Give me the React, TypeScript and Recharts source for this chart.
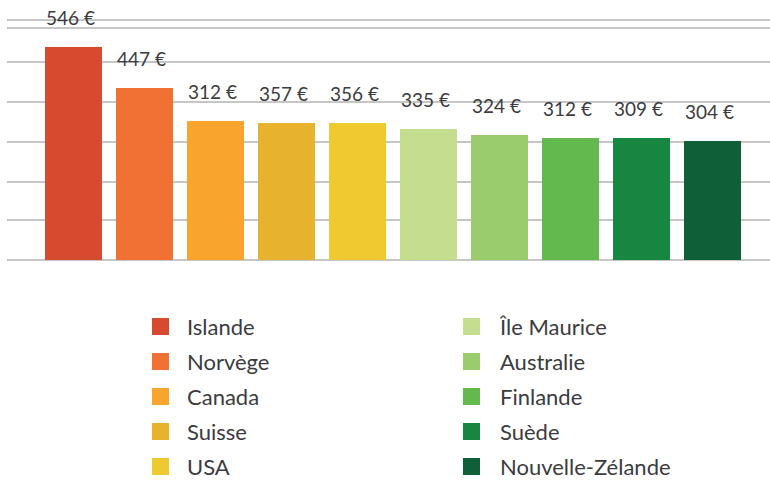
import React from "react";
import { BarChart, Bar, XAxis, YAxis, CartesianGrid, Cell, LabelList } from "recharts";

const countries = ["Islande", "Norvège", "Canada", "Suisse", "USA", "Île Maurice", "Australie", "Finlande", "Suède", "Nouvelle-Zélande"];
const barValues = [213, 172, 139, 137, 137, 131, 125, 122, 122, 119];
const priceLabels = ["546 €", "447 €", "312 €", "357 €", "356 €", "335 €", "324 €", "312 €", "309 €", "304 €"];
const colors = ["#d84a30", "#f17134", "#f8a42d", "#e7b22d", "#eec930", "#c4dd8e", "#9acc6d", "#63b94d", "#168641", "#0f5f38"];
const yTicks = [0, 40, 78, 118, 158, 198, 232];

const data = countries.map((c, i) => ({ name: c, value: barValues[i], label: priceLabels[i] }));

const FONT = "Lato, 'Noto Sans', sans-serif";
const TEXT = "#3b3b40";

const renderLabel = (props: any) => {
  const { x, y, index } = props;
  return (
    <text x={Number(x) + 1} y={Number(y) - 22} fill={TEXT} fontSize={19} fontFamily={FONT} textAnchor="start">
      {priceLabels[index]}
    </text>
  );
};

export default function App() {
  const leftCol = countries.slice(0, 5);
  const rightCol = countries.slice(5);
  return (
    <div style={{ position: "absolute", left: 0, top: 0, width: 770, height: 480, background: "#fff" }}>
      <BarChart width={770} height={480} data={data} margin={{ top: 20, right: 0, bottom: 220, left: 7 }}>
        <CartesianGrid vertical={false} stroke="#b3b3b3" strokeWidth={1.3} />
        <XAxis dataKey="name" hide padding={{ left: 31, right: 22 }} />
        <YAxis hide domain={[0, 240]} ticks={yTicks} />
        <Bar dataKey="value" barSize={57} isAnimationActive={false}>
          {data.map((d, i) => (
            <Cell key={d.name} fill={colors[i]} />
          ))}
          <LabelList dataKey="label" content={renderLabel} />
        </Bar>
      </BarChart>
      <svg width={770} height={180} style={{ position: "absolute", left: 0, top: 300 }}>
        {leftCol.map((c, i) => (
          <g key={c}>
            <rect x={152} y={18 + i * 35} width={17} height={17} fill={colors[i]} />
            <text x={187} y={35 + i * 35} fill={TEXT} fontSize={22} fontFamily={FONT}>{c}</text>
          </g>
        ))}
        {rightCol.map((c, i) => (
          <g key={c}>
            <rect x={463} y={18 + i * 35} width={17} height={17} fill={colors[i + 5]} />
            <text x={500} y={35 + i * 35} fill={TEXT} fontSize={22} fontFamily={FONT}>{c}</text>
          </g>
        ))}
      </svg>
    </div>
  );
}
